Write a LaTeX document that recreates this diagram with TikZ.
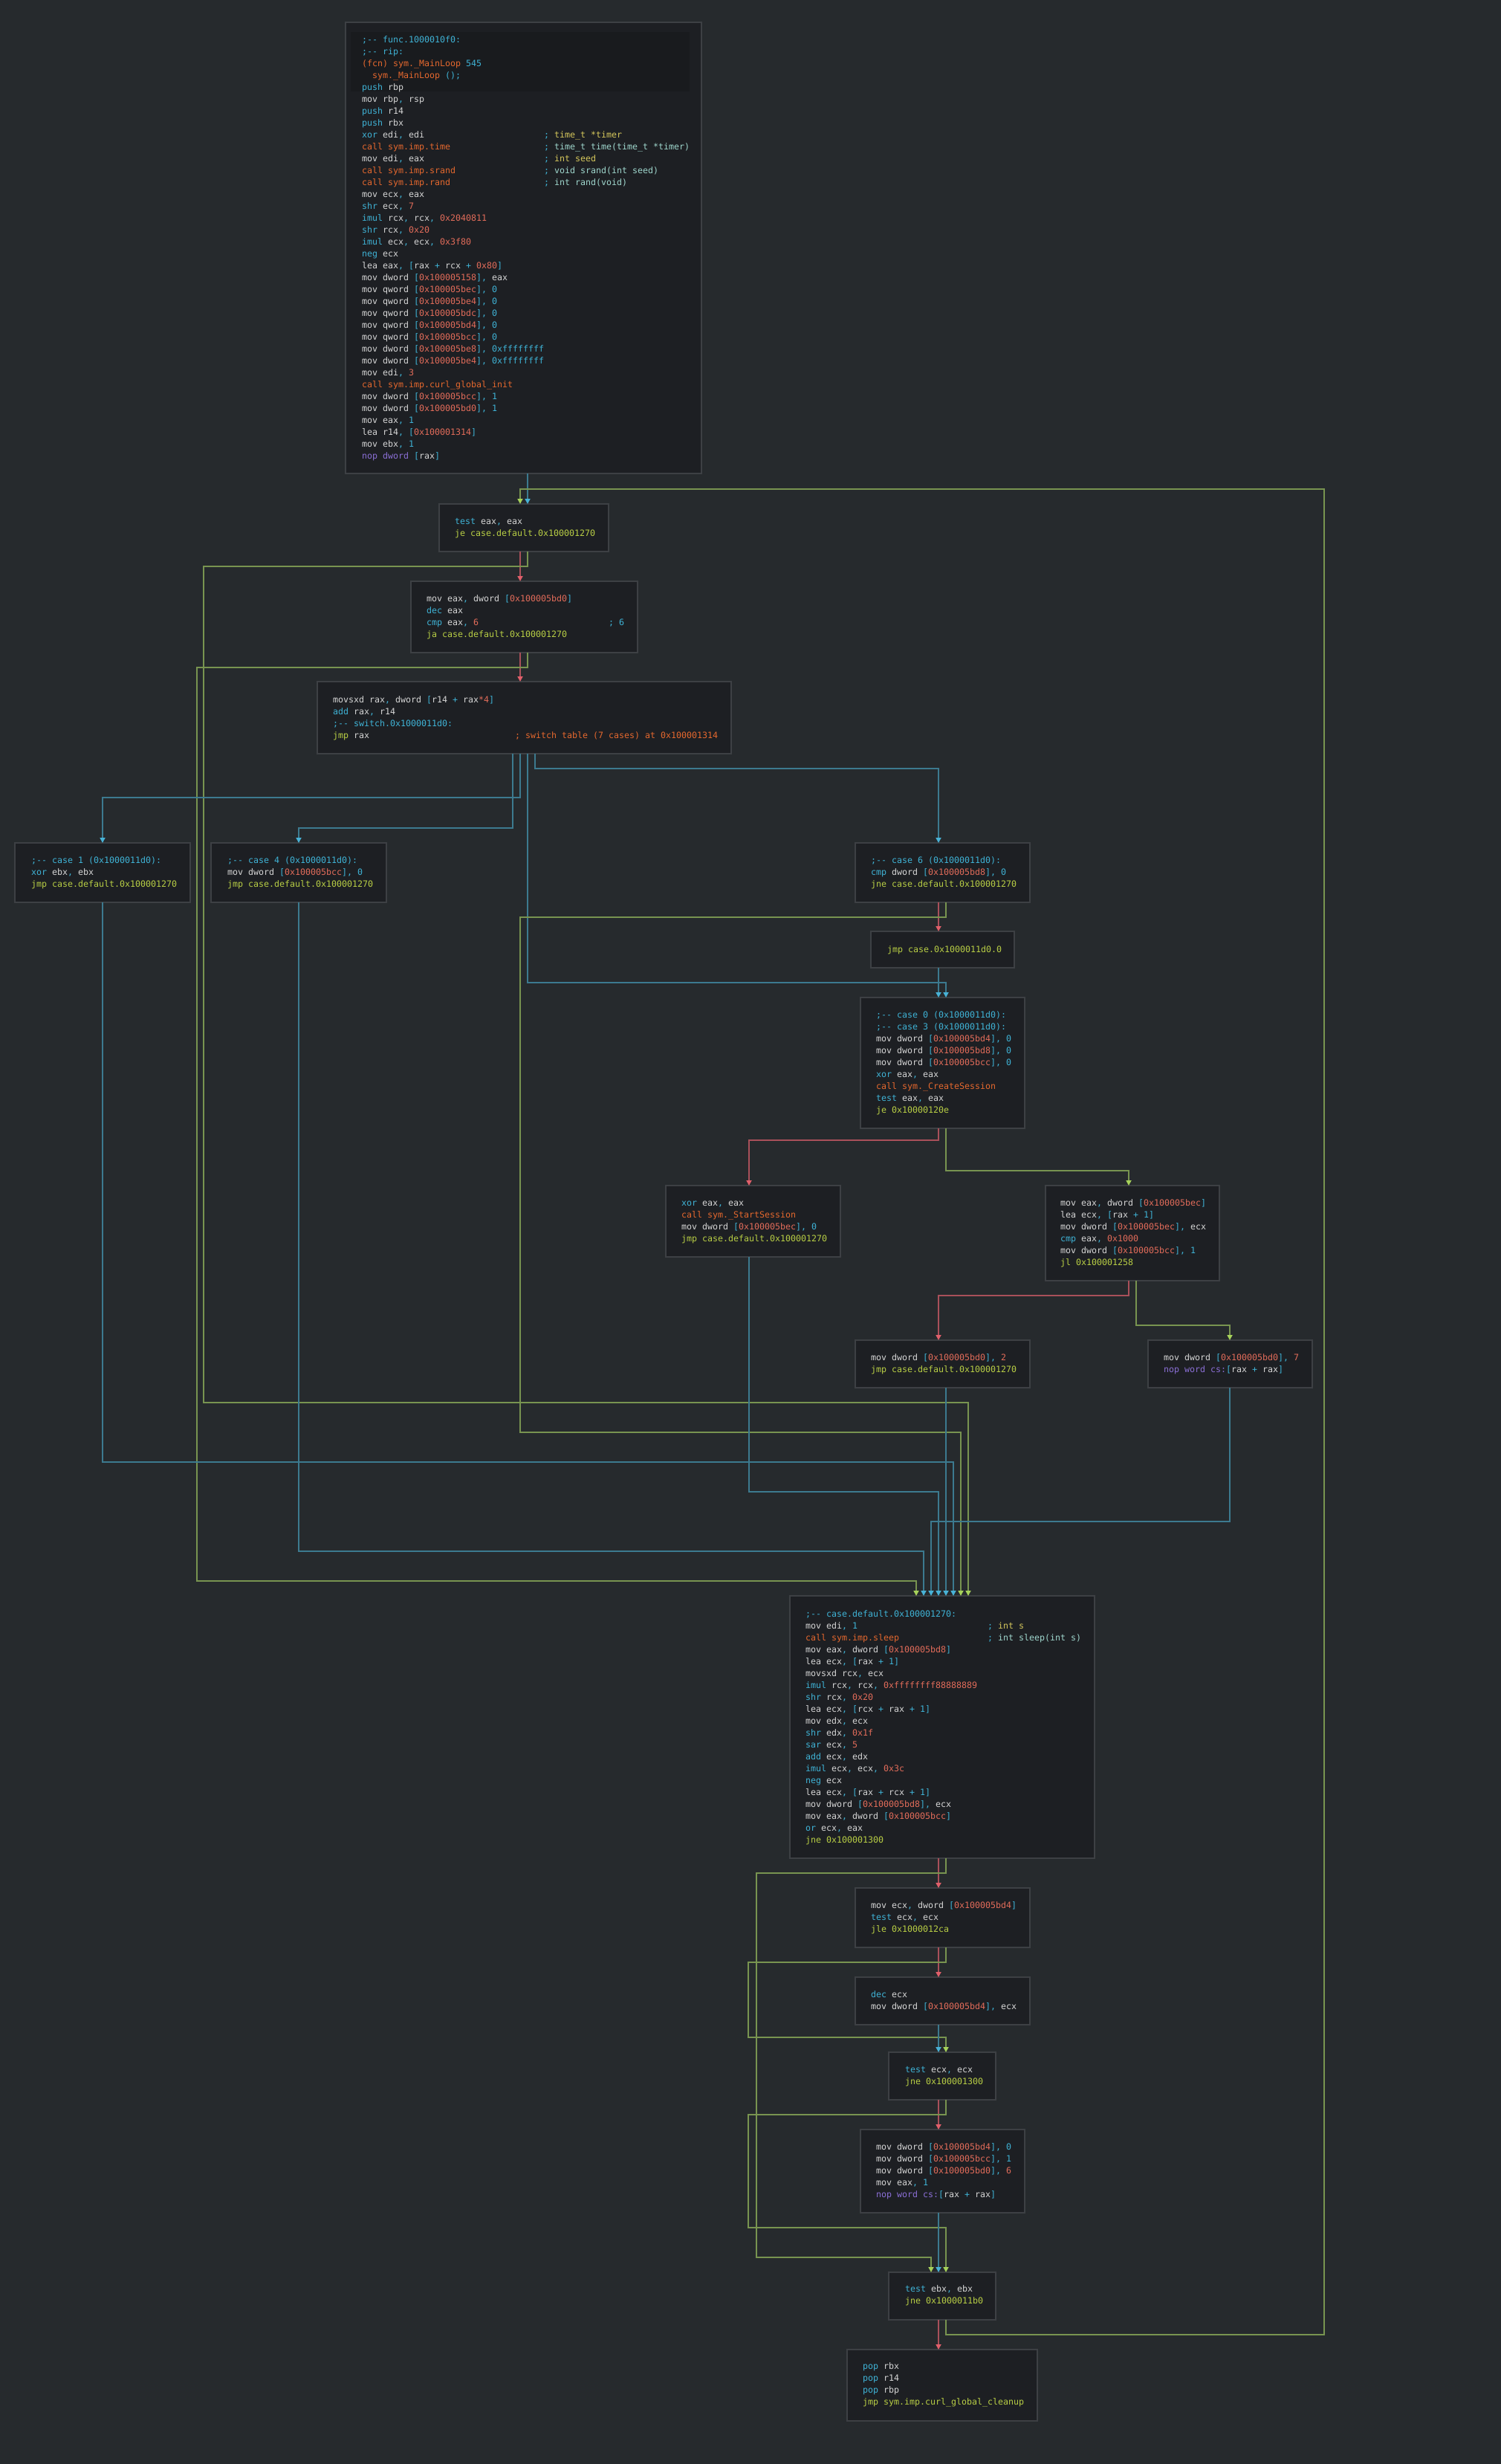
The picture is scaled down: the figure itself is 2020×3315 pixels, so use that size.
\documentclass[tikz,border=0pt]{standalone}
\usepackage{fontspec}
\setmonofont{DejaVu Sans Mono}
\usetikzlibrary{arrows.meta}
\definecolor{bgc}{HTML}{262A2D}
\definecolor{boxf}{HTML}{1D1F23}
\definecolor{boxd}{HTML}{3D4044}
\definecolor{band}{HTML}{191B1E}
\definecolor{lnB}{HTML}{3C7A8F}
\definecolor{hdB}{HTML}{48B2D6}
\definecolor{lnG}{HTML}{789450}
\definecolor{hdG}{HTML}{A6D25A}
\definecolor{lnR}{HTML}{A9505A}
\definecolor{hdR}{HTML}{E05F6A}
\definecolor{cW}{HTML}{D6D6D6}
\definecolor{cC}{HTML}{3FB3D6}
\definecolor{cO}{HTML}{E5682E}
\definecolor{cY}{HTML}{B9CF45}
\definecolor{cR}{HTML}{E26C5A}
\definecolor{cP}{HTML}{8B6FD6}
\definecolor{cA}{HTML}{D6C85C}
\definecolor{cS}{HTML}{9FD7CD}
\newlength\CW
\setlength\CW{7pt}
\newcommand\kC[1]{\textcolor{cC}{#1}}
\newcommand\kO[1]{\textcolor{cO}{#1}}
\newcommand\kY[1]{\textcolor{cY}{#1}}
\newcommand\kR[1]{\textcolor{cR}{#1}}
\newcommand\kP[1]{\textcolor{cP}{#1}}
\newcommand\kA[1]{\textcolor{cA}{#1}}
\newcommand\kS[1]{\textcolor{cS}{#1}}
\newcommand\cma{\kC{,}\space}
\newcommand\pls{\kC{+}\space}
\newcommand\lbk{\kC{[}}
\newcommand\rbk{\kC{]}}
\newcommand\mem[1]{\lbk\kR{#1}\rbk}
\newcommand\colto[2]{\makebox[#1\CW][l]{#2}}
\newcommand\tstrut{\rule{0pt}{11pt}}
\tikzset{
  blk/.style={draw=boxd, fill=boxf, line width=2pt, anchor=north west, inner sep=0pt, outer sep=0pt},
  txt/.style={anchor=north west, inner sep=0pt, outer sep=0pt, align=left, text=cW,
    font=\ttfamily\fontsize{11.63pt}{16pt}\selectfont},
  eb/.style={draw=lnB, line width=1.7pt, line join=miter, -{Triangle[width=7pt,length=7pt,color=hdB]}},
  eg/.style={draw=lnG, line width=1.7pt, line join=miter, -{Triangle[width=7pt,length=7pt,color=hdG]}},
  er/.style={draw=lnR, line width=1.7pt, line join=miter, -{Triangle[width=7pt,length=7pt,color=hdR]}},
}
\begin{document}
\begin{tikzpicture}[x=1pt,y=-1pt]
\useasboundingbox (0,0) rectangle (2020,3315);
\fill[bgc] (0,0) rectangle (2020,3315);
% boxes
\node[blk, minimum width=479pt, minimum height=607pt] (b1) at (465,30) {};
\fill[band] (472,43) rectangle (928,123);
\node[blk, minimum width=228pt, minimum height=64pt] (b2) at (591,678) {};
\node[blk, minimum width=305pt, minimum height=96pt] (b3) at (553,782) {};
\node[blk, minimum width=557pt, minimum height=97pt] (b4) at (427,917) {};
\node[blk, minimum width=236pt, minimum height=80pt] (b5) at (20,1134) {};
\node[blk, minimum width=236pt, minimum height=80pt] (b6) at (284,1134) {};
\node[blk, minimum width=235pt, minimum height=80pt] (b7) at (1151,1134) {};
\node[blk, minimum width=193pt, minimum height=49pt] (b8) at (1172,1253) {};
\node[blk, minimum width=221pt, minimum height=176pt] (b9) at (1158,1342) {};
\node[blk, minimum width=235pt, minimum height=96pt] (b10) at (896,1595) {};
\node[blk, minimum width=234pt, minimum height=128pt] (b11) at (1407,1595) {};
\node[blk, minimum width=235pt, minimum height=64pt] (b12) at (1151,1803) {};
\node[blk, minimum width=221pt, minimum height=64pt] (b13) at (1545,1803) {};
\node[blk, minimum width=410pt, minimum height=353pt] (b14) at (1063,2147) {};
\node[blk, minimum width=235pt, minimum height=80pt] (b15) at (1151,2540) {};
\node[blk, minimum width=235pt, minimum height=64pt] (b16) at (1151,2660) {};
\node[blk, minimum width=144pt, minimum height=64pt] (b17) at (1196,2761) {};
\node[blk, minimum width=221pt, minimum height=112pt] (b18) at (1158,2865) {};
\node[blk, minimum width=144pt, minimum height=64pt] (b19) at (1196,3057) {};
\node[blk, minimum width=256pt, minimum height=96pt] (b20) at (1140,3161) {};
% texts
\node[txt] (t1) at (487,46) {\tstrut\kC{;-- func.1000010f0:}\\
\kC{;-- rip:}\\
\kO{(fcn) sym.\_MainLoop} \kC{545}\\
\hspace*{2\CW}\kO{sym.\_MainLoop} \kC{();}\\
\kC{push} rbp\\
mov rbp\cma rsp\\
\kC{push} r14\\
\kC{push} rbx\\
\colto{35}{\kC{xor} edi\cma edi}\kC{;} \kA{time\_t *timer}\\
\colto{35}{\kO{call sym.imp.time}}\kC{;} \kS{time\_t time(time\_t *timer)}\\
\colto{35}{mov edi\cma eax}\kC{;} \kA{int seed}\\
\colto{35}{\kO{call sym.imp.srand}}\kC{;} \kS{void srand(int seed)}\\
\colto{35}{\kO{call sym.imp.rand}}\kC{;} \kS{int rand(void)}\\
mov ecx\cma eax\\
\kC{shr} ecx\cma \kR{7}\\
\kC{imul} rcx\cma rcx\cma \kR{0x2040811}\\
\kC{shr} rcx\cma \kR{0x20}\\
\kC{imul} ecx\cma ecx\cma \kR{0x3f80}\\
\kC{neg} ecx\\
lea eax\cma \lbk rax \pls rcx \pls \kR{0x80}\rbk\\
mov dword \mem{0x100005158}\cma eax\\
mov qword \mem{0x100005bec}\cma \kC{0}\\
mov qword \mem{0x100005be4}\cma \kC{0}\\
mov qword \mem{0x100005bdc}\cma \kC{0}\\
mov qword \mem{0x100005bd4}\cma \kC{0}\\
mov qword \mem{0x100005bcc}\cma \kC{0}\\
mov dword \mem{0x100005be8}\cma \kC{0xffffffff}\\
mov dword \mem{0x100005be4}\cma \kC{0xffffffff}\\
mov edi\cma \kR{3}\\
\kO{call sym.imp.curl\_global\_init}\\
mov dword \mem{0x100005bcc}\cma \kC{1}\\
mov dword \mem{0x100005bd0}\cma \kC{1}\\
mov eax\cma \kC{1}\\
lea r14\cma \mem{0x100001314}\\
mov ebx\cma \kC{1}\\
\kP{nop dword} \lbk rax\rbk};
\node[txt] (t2) at (612,694) {\tstrut\kC{test} eax\cma eax\\
\kY{je case.default.0x100001270}};
\node[txt] (t3) at (574,798) {\tstrut mov eax\cma dword \mem{0x100005bd0}\\
\kC{dec} eax\\
\colto{35}{\kC{cmp} eax\cma \kR{6}}\kC{; 6}\\
\kY{ja case.default.0x100001270}};
\node[txt] (t4) at (448,934) {\tstrut movsxd rax\cma dword \lbk r14 \pls rax\kR{*4}\rbk\\
\kC{add} rax\cma r14\\
\kC{;-- switch.0x1000011d0:}\\
\colto{35}{\kY{jmp} rax}\kO{; switch table (7 cases) at 0x100001314}};
\node[txt] (t5) at (42,1150) {\tstrut\kC{;-- case 1 (0x1000011d0):}\\
\kC{xor} ebx\cma ebx\\
\kY{jmp case.default.0x100001270}};
\node[txt] (t6) at (306,1150) {\tstrut\kC{;-- case 4 (0x1000011d0):}\\
mov dword \mem{0x100005bcc}\cma \kC{0}\\
\kY{jmp case.default.0x100001270}};
\node[txt] (t7) at (1172,1150) {\tstrut\kC{;-- case 6 (0x1000011d0):}\\
\kC{cmp} dword \mem{0x100005bd8}\cma \kC{0}\\
\kY{jne case.default.0x100001270}};
\node[txt] (t8) at (1194,1270) {\tstrut\kY{jmp case.0x1000011d0.0}};
\node[txt] (t9) at (1179,1358) {\tstrut\kC{;-- case 0 (0x1000011d0):}\\
\kC{;-- case 3 (0x1000011d0):}\\
mov dword \mem{0x100005bd4}\cma \kC{0}\\
mov dword \mem{0x100005bd8}\cma \kC{0}\\
mov dword \mem{0x100005bcc}\cma \kC{0}\\
\kC{xor} eax\cma eax\\
\kO{call sym.\_CreateSession}\\
\kC{test} eax\cma eax\\
\kY{je 0x10000120e}};
\node[txt] (t10) at (917,1611) {\tstrut\kC{xor} eax\cma eax\\
\kO{call sym.\_StartSession}\\
mov dword \mem{0x100005bec}\cma \kC{0}\\
\kY{jmp case.default.0x100001270}};
\node[txt] (t11) at (1427,1611) {\tstrut mov eax\cma dword \mem{0x100005bec}\\
lea ecx\cma \lbk rax \pls \kC{1}\rbk\\
mov dword \mem{0x100005bec}\cma ecx\\
\kC{cmp} eax\cma \kR{0x1000}\\
mov dword \mem{0x100005bcc}\cma \kC{1}\\
\kY{jl 0x100001258}};
\node[txt] (t12) at (1172,1819) {\tstrut mov dword \mem{0x100005bd0}\cma \kR{2}\\
\kY{jmp case.default.0x100001270}};
\node[txt] (t13) at (1566,1819) {\tstrut mov dword \mem{0x100005bd0}\cma \kR{7}\\
\kP{nop word cs:}\lbk rax \pls rax\rbk};
\node[txt] (t14) at (1084,2164) {\tstrut\kC{;-- case.default.0x100001270:}\\
\colto{35}{mov edi\cma \kC{1}}\kC{;} \kA{int s}\\
\colto{35}{\kO{call sym.imp.sleep}}\kC{;} \kS{int sleep(int s)}\\
mov eax\cma dword \mem{0x100005bd8}\\
lea ecx\cma \lbk rax \pls \kC{1}\rbk\\
movsxd rcx\cma ecx\\
\kC{imul} rcx\cma rcx\cma \kR{0xffffffff88888889}\\
\kC{shr} rcx\cma \kR{0x20}\\
lea ecx\cma \lbk rcx \pls rax \pls \kC{1}\rbk\\
mov edx\cma ecx\\
\kC{shr} edx\cma \kR{0x1f}\\
\kC{sar} ecx\cma \kR{5}\\
\kC{add} ecx\cma edx\\
\kC{imul} ecx\cma ecx\cma \kR{0x3c}\\
\kC{neg} ecx\\
lea ecx\cma \lbk rax \pls rcx \pls \kC{1}\rbk\\
mov dword \mem{0x100005bd8}\cma ecx\\
mov eax\cma dword \mem{0x100005bcc}\\
\kC{or} ecx\cma eax\\
\kY{jne 0x100001300}};
\node[txt] (t15) at (1172,2556) {\tstrut mov ecx\cma dword \mem{0x100005bd4}\\
\kC{test} ecx\cma ecx\\
\kY{jle 0x1000012ca}};
\node[txt] (t16) at (1172,2676) {\tstrut\kC{dec} ecx\\
mov dword \mem{0x100005bd4}\cma ecx};
\node[txt] (t17) at (1218,2777) {\tstrut\kC{test} ecx\cma ecx\\
\kY{jne 0x100001300}};
\node[txt] (t18) at (1179,2881) {\tstrut mov dword \mem{0x100005bd4}\cma \kC{0}\\
mov dword \mem{0x100005bcc}\cma \kC{1}\\
mov dword \mem{0x100005bd0}\cma \kR{6}\\
mov eax\cma \kC{1}\\
\kP{nop word cs:}\lbk rax \pls rax\rbk};
\node[txt] (t19) at (1218,3072) {\tstrut\kC{test} ebx\cma ebx\\
\kY{jne 0x1000011b0}};
\node[txt] (t20) at (1161,3176) {\tstrut\kC{pop} rbx\\
\kC{pop} r14\\
\kC{pop} rbp\\
\kY{jmp sym.imp.curl\_global\_cleanup}};
% edges
\draw[eb] ([xshift=245pt]b1.south west) -- ([xshift=119pt]b2.north west);
\draw[eg] ([xshift=77pt]b19.south west) -- (1273,3141) -- (1782,3141) -- (1782,658) -- (700,658) -- ([xshift=109pt]b2.north west);
\draw[er] ([xshift=109pt]b2.south west) -- ([xshift=147pt]b3.north west);
\draw[eg] ([xshift=119pt]b2.south west) -- (710,762) -- (274,762) -- (274,1887) -- (1303,1887) -- ([xshift=240pt]b14.north west);
\draw[er] ([xshift=147pt]b3.south west) -- ([xshift=273pt]b4.north west);
\draw[eg] ([xshift=157pt]b3.south west) -- (710,898) -- (265,898) -- (265,2127) -- (1233,2127) -- ([xshift=170pt]b14.north west);
\draw[eb] ([xshift=293pt]b4.south west) -- (720,1034) -- (1263,1034) -- ([xshift=112pt]b7.north west);
\draw[eb] ([xshift=273pt]b4.south west) -- (700,1073) -- (138,1073) -- ([xshift=118pt]b5.north west);
\draw[eb] ([xshift=263pt]b4.south west) -- (690,1114) -- (402,1114) -- ([xshift=118pt]b6.north west);
\draw[eb] ([xshift=283pt]b4.south west) -- (710,1322) -- (1273,1322) -- ([xshift=115pt]b9.north west);
\draw[er] ([xshift=112pt]b7.south west) -- ([xshift=91pt]b8.north west);
\draw[eg] ([xshift=122pt]b7.south west) -- (1273,1234) -- (700,1234) -- (700,1927) -- (1293,1927) -- ([xshift=230pt]b14.north west);
\draw[eb] ([xshift=91pt]b8.south west) -- ([xshift=105pt]b9.north west);
\draw[er] ([xshift=105pt]b9.south west) -- (1263,1534) -- (1008,1534) -- ([xshift=112pt]b10.north west);
\draw[eg] ([xshift=115pt]b9.south west) -- (1273,1575) -- (1519,1575) -- ([xshift=112pt]b11.north west);
\draw[er] ([xshift=112pt]b11.south west) -- (1519,1743) -- (1263,1743) -- ([xshift=112pt]b12.north west);
\draw[eg] ([xshift=122pt]b11.south west) -- (1529,1783) -- (1655,1783) -- ([xshift=110pt]b13.north west);
\draw[eb] ([xshift=118pt]b5.south west) -- (138,1967) -- (1283,1967) -- ([xshift=220pt]b14.north west);
\draw[eb] ([xshift=112pt]b10.south west) -- (1008,2007) -- (1263,2007) -- ([xshift=200pt]b14.north west);
\draw[eb] ([xshift=122pt]b12.south west) -- ([xshift=210pt]b14.north west);
\draw[eb] ([xshift=110pt]b13.south west) -- (1655,2047) -- (1253,2047) -- ([xshift=190pt]b14.north west);
\draw[eb] ([xshift=118pt]b6.south west) -- (402,2087) -- (1243,2087) -- ([xshift=180pt]b14.north west);
\draw[er] ([xshift=200pt]b14.south west) -- ([xshift=112pt]b15.north west);
\draw[eg] ([xshift=210pt]b14.south west) -- (1273,2520) -- (1018,2520) -- (1018,3037) -- (1253,3037) -- ([xshift=57pt]b19.north west);
\draw[er] ([xshift=112pt]b15.south west) -- ([xshift=112pt]b16.north west);
\draw[eg] ([xshift=122pt]b15.south west) -- (1273,2640) -- (1007,2640) -- (1007,2741) -- (1273,2741) -- ([xshift=77pt]b17.north west);
\draw[eb] ([xshift=112pt]b16.south west) -- ([xshift=67pt]b17.north west);
\draw[er] ([xshift=67pt]b17.south west) -- ([xshift=105pt]b18.north west);
\draw[eg] ([xshift=77pt]b17.south west) -- (1273,2845) -- (1007,2845) -- (1007,2997) -- (1273,2997) -- ([xshift=77pt]b19.north west);
\draw[eb] ([xshift=105pt]b18.south west) -- ([xshift=67pt]b19.north west);
\draw[er] ([xshift=67pt]b19.south west) -- ([xshift=123pt]b20.north west);
\end{tikzpicture}
\end{document}
